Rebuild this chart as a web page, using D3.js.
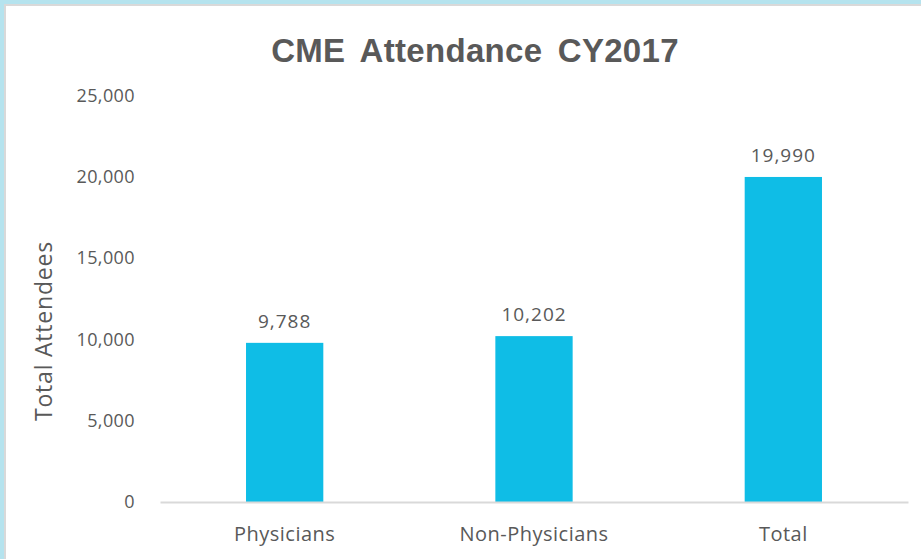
<!DOCTYPE html>
<meta charset="utf-8">
<style>
body { margin:0; background:#fff; }
#frame {
  position:absolute; left:0; top:0; width:921px; height:559px;
  background:#b5e3ee;
}
#inner {
  position:absolute; left:4px; top:4px; width:917px; height:555px;
  background:#d9d9d9;
}
svg { position:absolute; left:6px; top:6px; background:#fff; }
text { font-family:"Open Sans", "Noto Sans", sans-serif; fill:#595959; }
</style>
<body>
<div id="frame"><div id="inner"></div></div>
<svg id="chart" width="915" height="553"></svg>
<script src="https://d3js.org/d3.v7.min.js"></script>
<script>
var categories = ["Physicians", "Non-Physicians", "Total"];
var attendees = [9788, 10202, 19990];
var yTicks = [0, 5000, 10000, 15000, 20000, 25000];

// svg is shifted by 6px, so subtract from page coords
var off = 6;
var svg = d3.select("#chart");

var x = d3.scaleBand()
    .domain(categories)
    .range([160 - off, 908 - off])
    .paddingInner(0.69)
    .paddingOuter(0.345);

var y = d3.scaleLinear()
    .domain([0, 25000])
    .range([502 - off, 95.5 - off]);

var fmt = d3.format(",");

svg.append("text")
    .attr("x", 475 - off)
    .attr("y", 62 - off)
    .attr("text-anchor", "middle")
    .style("font-family", "Arial, 'Liberation Sans', sans-serif")
    .style("font-weight", "bold")
    .style("font-size", "33px")
    .style("letter-spacing", "0.3px")
    .style("word-spacing", "6px")
    .text("CME Attendance CY2017");

// y axis labels, no line
var yAxis = svg.append("g")
    .attr("transform", "translate(" + (160 - off) + ",0)")
    .call(d3.axisLeft(y).tickValues(yTicks).tickSize(0).tickPadding(25).tickFormat(fmt));
yAxis.select(".domain").remove();
yAxis.selectAll("text")
    .style("font-family", "'Open Sans', sans-serif")
    .style("font-size", "18px")
    .style("letter-spacing", "0.4px")
    .attr("fill", "#595959");

svg.append("text")
    .attr("transform", "translate(" + (52 - off) + "," + (331 - off) + ") rotate(-90)")
    .attr("text-anchor", "middle")
    .style("font-size", "23px")
    .style("letter-spacing", "0.8px")
    .text("Total Attendees");

svg.selectAll("rect.bar")
  .data(attendees)
  .enter().append("rect")
    .attr("class", "bar")
    .attr("x", function(d, i) { return x(categories[i]); })
    .attr("width", x.bandwidth())
    .attr("y", function(d) { return y(d); })
    .attr("height", function(d) { return y(0) - y(d); })
    .attr("fill", "#0fbde6");

svg.selectAll("text.val")
  .data(attendees)
  .enter().append("text")
    .attr("class", "val")
    .attr("x", function(d, i) { return x(categories[i]) + x.bandwidth() / 2; })
    .attr("y", function(d) { return y(d) - 15; })
    .attr("text-anchor", "middle")
    .style("font-size", "19px")
    .style("letter-spacing", "1px")
    .text(function(d) { return fmt(d); });

// baseline and category labels
var xAxis = svg.append("g")
    .attr("transform", "translate(0," + y(0) + ")")
    .call(d3.axisBottom(x).tickSize(0).tickPadding(25));
xAxis.select(".domain").attr("stroke", "#d9d9d9").attr("stroke-width", 2);
xAxis.selectAll("text")
    .style("font-family", "'Open Sans', sans-serif")
    .style("font-size", "20px")
    .style("letter-spacing", "0.5px")
    .attr("fill", "#595959");
</script>
</body>
